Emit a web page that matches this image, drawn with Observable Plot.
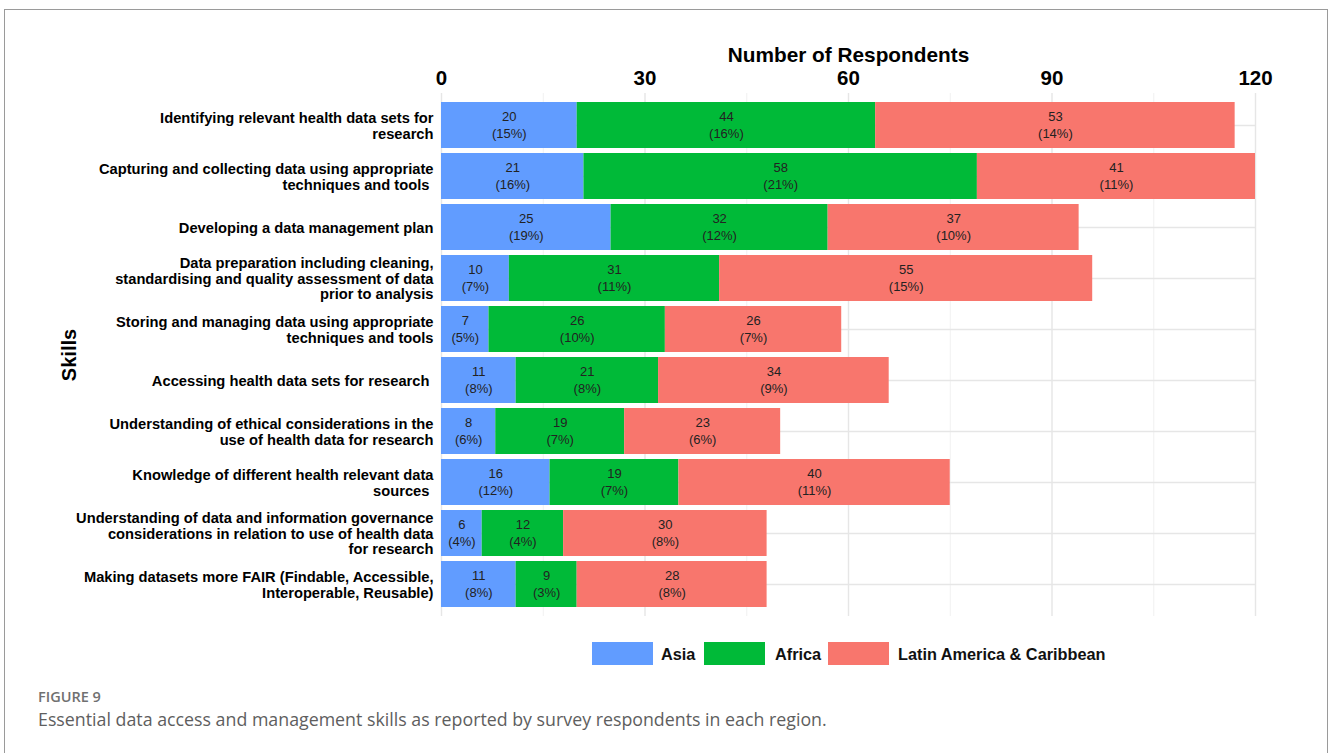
<!DOCTYPE html>
<html><head><meta charset="utf-8">
<script src="https://cdn.jsdelivr.net/npm/d3@7"></script>
<script src="https://cdn.jsdelivr.net/npm/@observablehq/plot@0.6"></script>
<style>
html,body{margin:0;padding:0;background:#fff;}
#page{position:relative;width:1328px;height:753px;overflow:hidden;font-family:"Liberation Sans",Arial,sans-serif;}
#frame{position:absolute;left:4px;top:9px;width:1324px;height:820px;border:1.5px solid #9a9a9a;box-sizing:border-box;}
#chart{position:absolute;left:0;top:0;}
.key{position:absolute;top:642px;width:61px;height:23px;}
.lab{position:absolute;top:643px;font-size:16.3px;font-weight:bold;color:#111;line-height:22px;white-space:nowrap;}
#fig{position:absolute;left:38px;top:690px;font-family:"Open Sans",sans-serif;font-weight:600;font-size:14.5px;line-height:1;color:#707070;}
#cap{position:absolute;left:38px;top:711px;font-family:"Open Sans",sans-serif;font-size:17.8px;line-height:1;color:#5e5e5e;white-space:nowrap;}
</style></head>
<body><div id="page"><div id="frame"></div><div id="chart"></div>
<div id="legend"></div>
<div id="fig">FIGURE 9</div>
<div id="cap">Essential data access and management skills as reported by survey respondents in each region.</div>
</div>
<script>
const skills = [
  "Identifying relevant health data sets for\nresearch",
  "Capturing and collecting data using appropriate\ntechniques and tools\u00a0",
  "Developing a data management plan",
  "Data preparation including cleaning,\nstandardising and quality assessment of data\nprior to analysis",
  "Storing and managing data using appropriate\ntechniques and tools",
  "Accessing health data sets for research\u00a0",
  "Understanding of ethical considerations in the\nuse of health data for research",
  "Knowledge of different health relevant data\nsources\u00a0",
  "Understanding of data and information governance\nconsiderations in relation to use of health data\nfor research",
  "Making datasets more FAIR (Findable, Accessible,\nInteroperable, Reusable)"
];
const regions = ["Asia", "Africa", "Latin America & Caribbean"];
const asiaCounts   = [20, 21, 25, 10, 7, 11, 8, 16, 6, 11];
const asiaPct      = [15, 16, 19, 7, 5, 8, 6, 12, 4, 8];
const africaCounts = [44, 58, 32, 31, 26, 21, 19, 19, 12, 9];
const africaPct    = [16, 21, 12, 11, 10, 8, 7, 7, 4, 3];
const latamCounts  = [53, 41, 37, 55, 26, 34, 23, 40, 30, 28];
const latamPct     = [14, 11, 10, 15, 7, 9, 6, 11, 8, 8];
const xTicks = [0, 30, 60, 90, 120];
const xMinor = [15, 45, 75, 105];
const colors = ["#619CFF", "#00BA38", "#F8766D"];

const counts = [asiaCounts, africaCounts, latamCounts];
const pcts = [asiaPct, africaPct, latamPct];
const rows = [];
skills.forEach((s, i) => regions.forEach((r, j) => rows.push({skill: s, region: r, value: counts[j][i], pct: pcts[j][i]})));

const chart = Plot.plot({
  width: 1328, height: 622,
  marginLeft: 441, marginRight: 73, marginTop: 93, marginBottom: 6,
  style: {fontFamily: "'Liberation Sans', Arial, sans-serif", background: "transparent"},
  x: {domain: [0, 120]},
  y: {domain: skills, paddingInner: 0.1, paddingOuter: 0.15},
  color: {domain: regions, range: colors},
  marks: [
    Plot.gridX(xMinor, {stroke: "#eeeeee", strokeOpacity: 1, strokeWidth: 0.8}),
    Plot.gridX(xTicks, {stroke: "#e6e6e6", strokeOpacity: 1, strokeWidth: 1.4}),
    Plot.gridY(skills, {stroke: "#e6e6e6", strokeOpacity: 1, strokeWidth: 1.4}),
    Plot.barX(rows, {y: "skill", x: "value", fill: "region", order: regions}),
    Plot.text(rows, Plot.stackX({y: "skill", x: "value", z: "region", order: regions,
      text: d => `${d.value}\n(${d.pct}%)`, fill: "#222", fontSize: 13, lineHeight: 1.3, dy: -1.5})),
    Plot.axisX({ticks: xTicks, anchor: "top", tickSize: 0, tickPadding: 8.5, fontSize: 20.5, fontWeight: "bold", fill: "#000", label: null}),
    Plot.axisY({tickSize: 0, tickPadding: 8, fontSize: 14.7, fontWeight: "bold", fill: "#000", lineHeight: 1.08, label: null}),
    Plot.text(["Number of Respondents"], {frameAnchor: "top", dy: -31.5, lineAnchor: "bottom", fontSize: 20.8, fontWeight: "bold", fill: "#000"}),
    Plot.text(["Skills"], {frameAnchor: "left", dx: -372, rotate: -90, textAnchor: "middle", fontSize: 20, fontWeight: "bold", fill: "#000"})
  ]
});
document.getElementById("chart").appendChild(chart);

const legend = document.getElementById("legend");
const keyX = [592, 704, 828];
const labX = [661, 775, 898];
regions.forEach((r, i) => {
  const k = document.createElement("div");
  k.className = "key"; k.style.left = keyX[i] + "px"; k.style.background = colors[i];
  legend.appendChild(k);
  const t = document.createElement("div");
  t.className = "lab"; t.style.left = labX[i] + "px"; t.textContent = r;
  legend.appendChild(t);
});
</script>
</body></html>
